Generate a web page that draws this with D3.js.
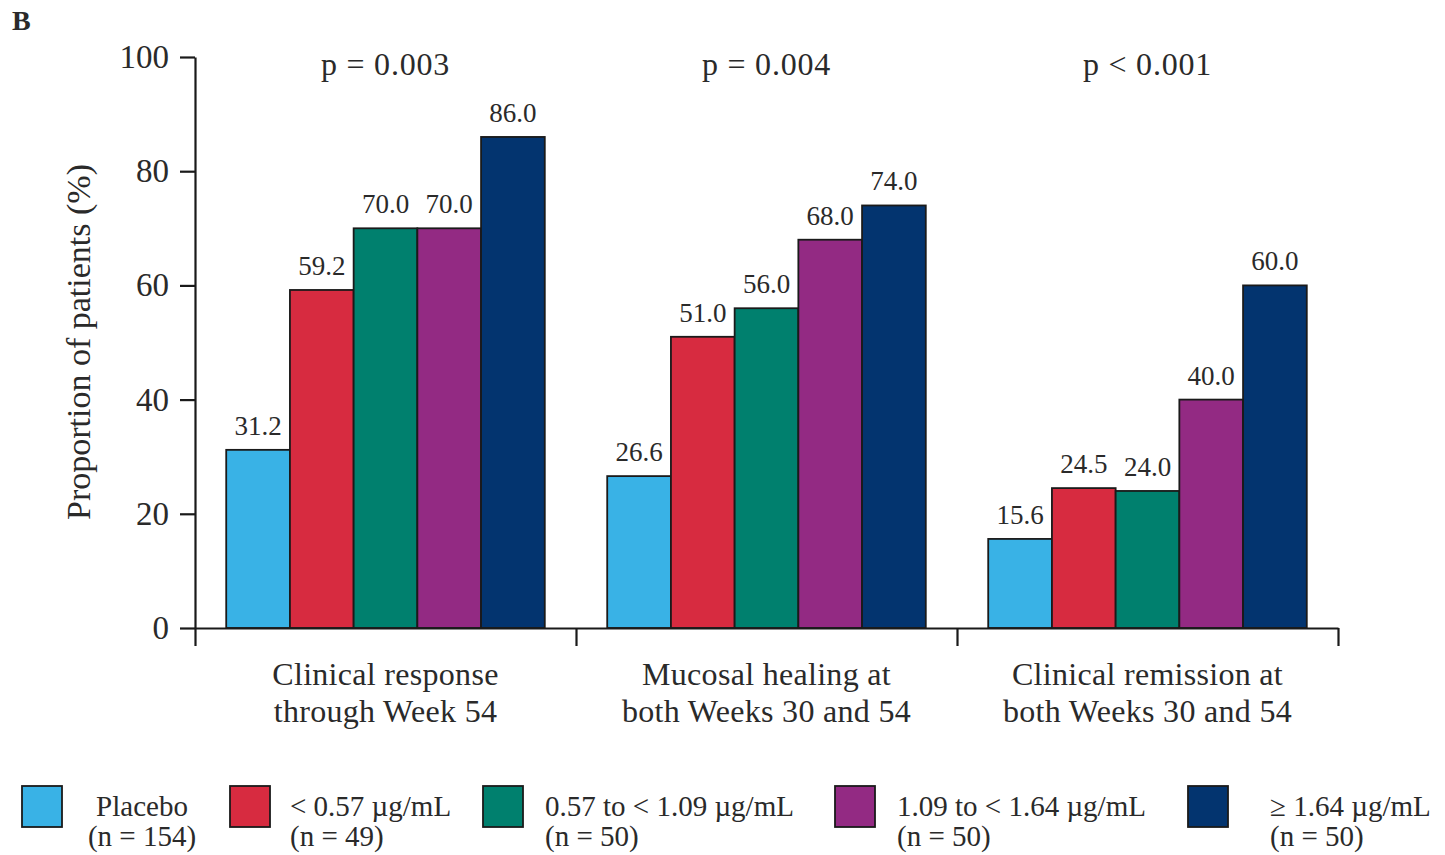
<!DOCTYPE html>
<html>
<head>
<meta charset="utf-8">
<script src="https://cdn.jsdelivr.net/npm/d3@7"></script>
<style>
  html, body { margin: 0; padding: 0; background: #fff; }
  svg { display: block; }
  text { font-family: "Liberation Serif", "Times New Roman", serif; fill: #2a2a2a; }
</style>
</head>
<body>
<svg id="chart" width="1445" height="855"></svg>
<script>
// Outcome groups along the x axis (two-line labels)
const categories = [
  ["Clinical response", "through Week 54"],
  ["Mucosal healing at", "both Weeks 30 and 54"],
  ["Clinical remission at", "both Weeks 30 and 54"]
];
const pValues = ["p = 0.003", "p = 0.004", "p < 0.001"];

// Trough concentration quartile groups
const seriesNames = ["Placebo", "< 0.57 \u00b5g/mL", "0.57 to < 1.09 \u00b5g/mL", "1.09 to < 1.64 \u00b5g/mL", "\u2265 1.64 \u00b5g/mL"];
const seriesN = ["(n = 154)", "(n = 49)", "(n = 50)", "(n = 50)", "(n = 50)"];
const seriesColors = ["#39b2e6", "#d72b40", "#00806e", "#932a83", "#03346f"];

// Proportion of patients (%) per outcome, one array per series
const placebo = [31.2, 26.6, 15.6];
const below057 = [59.2, 51.0, 24.5];
const from057 = [70.0, 56.0, 24.0];
const from109 = [70.0, 68.0, 40.0];
const above164 = [86.0, 74.0, 60.0];
const seriesValues = [placebo, below057, from057, from109, above164];

const yTicks = [0, 20, 40, 60, 80, 100];

const svg = d3.select("#chart");

const x0 = d3.scaleBand()
  .domain(d3.range(categories.length))
  .range([195, 1338])
  .paddingInner(0).paddingOuter(0);

const x1 = d3.scaleBand()
  .domain(d3.range(seriesNames.length))
  .range([0, x0.bandwidth()])
  .paddingInner(0).paddingOuter(0.49);

const y = d3.scaleLinear().domain([0, 100]).range([628, 57]);

// Bars with value labels
categories.forEach((c, ci) => {
  const g = svg.append("g").attr("transform", `translate(${x0(ci)},0)`);
  seriesValues.forEach((vals, si) => {
    const v = vals[ci];
    g.append("rect")
      .attr("x", x1(si))
      .attr("y", y(v))
      .attr("width", x1.bandwidth())
      .attr("height", y(0) - y(v))
      .attr("fill", seriesColors[si])
      .attr("stroke", "#1a1a1a")
      .attr("stroke-width", 1.8);
    g.append("text")
      .attr("x", x1(si) + x1.bandwidth() / 2)
      .attr("y", y(v) - 15)
      .attr("text-anchor", "middle")
      .attr("font-size", 27)
      .text(v.toFixed(1));
  });
  // significance label above each group
  svg.append("text")
    .attr("x", x0(ci) + x0.bandwidth() / 2)
    .attr("y", 75)
    .attr("text-anchor", "middle")
    .attr("font-size", 32)
    .attr("letter-spacing", 0.8)
    .text(pValues[ci]);
  // two-line category label
  c.forEach((line, li) => {
    svg.append("text")
      .attr("x", x0(ci) + x0.bandwidth() / 2)
      .attr("y", 685 + li * 37)
      .attr("text-anchor", "middle")
      .attr("font-size", 32)
      .attr("letter-spacing", 0.3)
      .text(line);
  });
});

// Y axis
const yAxis = svg.append("g")
  .attr("transform", "translate(195,0)")
  .call(d3.axisLeft(y).tickValues(yTicks).tickSize(15).tickPadding(11).tickSizeOuter(0));
yAxis.selectAll("path, line").attr("stroke", "#1a1a1a").attr("stroke-width", 2.2);
yAxis.selectAll("text")
  .attr("font-family", "Liberation Serif, serif")
  .attr("font-size", 33)
  .attr("fill", "#2a2a2a");

// X axis baseline with ticks at group boundaries
const bounds = categories.map((c, i) => x0(i)).concat([x0(categories.length - 1) + x0.bandwidth()]);
const xAxis = svg.append("g")
  .attr("transform", `translate(0,${y(0)})`)
  .call(d3.axisBottom(d3.scaleLinear().domain([195, 1338]).range([195, 1338]))
    .tickValues(bounds).tickSize(18).tickSizeOuter(0).tickFormat(""));
xAxis.selectAll("path, line").attr("stroke", "#1a1a1a").attr("stroke-width", 2.2);

// Y axis title
svg.append("text")
  .attr("transform", "translate(90,342) rotate(-90)")
  .attr("text-anchor", "middle")
  .attr("font-size", 34)
  .text("Proportion of patients (%)");

// Panel letter
svg.append("text")
  .attr("x", 12).attr("y", 30)
  .attr("font-size", 28)
  .attr("font-weight", "bold")
  .text("B");

// Legend
const legendX = [22, 230, 483, 835, 1188];
const legendTextX = [142, 290, 545, 897, 1270];
const legend = svg.append("g");
seriesNames.forEach((name, i) => {
  legend.append("rect")
    .attr("x", legendX[i]).attr("y", 786)
    .attr("width", 40).attr("height", 41)
    .attr("fill", seriesColors[i])
    .attr("stroke", "#1a1a1a").attr("stroke-width", 1.8);
  const anchor = i === 0 ? "middle" : "start";
  legend.append("text")
    .attr("x", legendTextX[i]).attr("y", 816)
    .attr("text-anchor", anchor)
    .attr("font-size", 29)
    .text(name);
  legend.append("text")
    .attr("x", legendTextX[i]).attr("y", 846)
    .attr("text-anchor", anchor)
    .attr("font-size", 29)
    .text(seriesN[i]);
});
</script>
</body>
</html>
